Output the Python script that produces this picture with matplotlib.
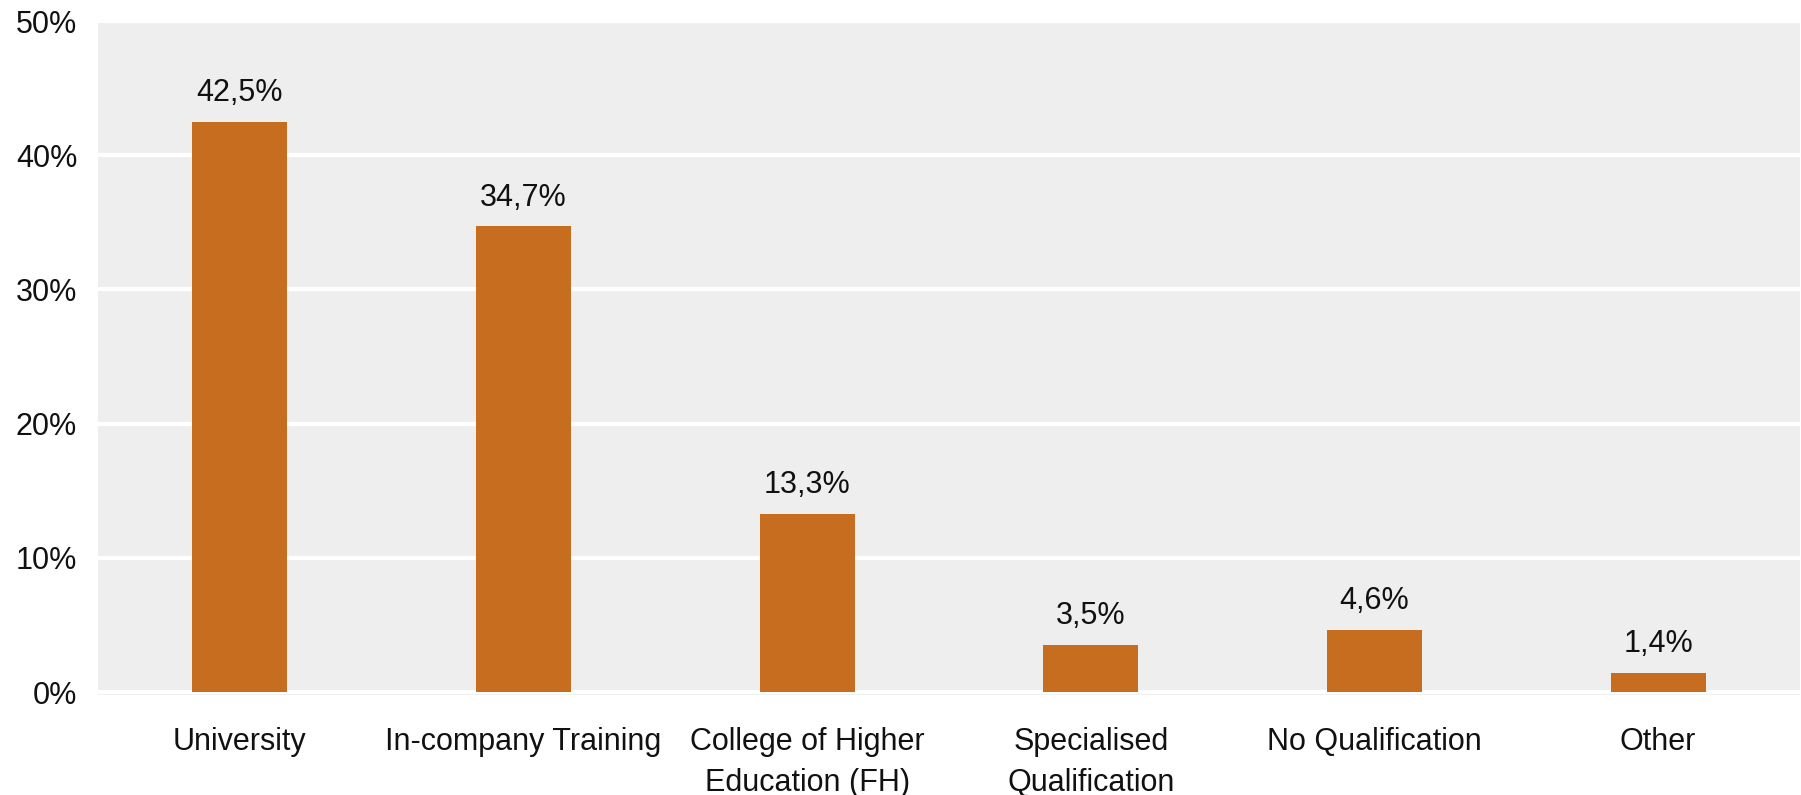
import numpy as np
import matplotlib.pyplot as plt

# data
categories = ['University', 'In-company Training', 'College of Higher\nEducation (FH)',
              'Specialised\nQualification', 'No Qualification', 'Other']
values = [42.5, 34.7, 13.3, 3.5, 4.6, 1.4]
yticks = [0, 10, 20, 30, 40, 50]

plt.rcParams['font.family'] = ['Liberation Sans', 'DejaVu Sans']

W, H = 1801, 795
fig = plt.figure(figsize=(W / 100, H / 100), dpi=100)
ax = fig.add_axes([98 / W, (H - 695) / H, (1800 - 98) / W, (695 - 19) / H])
ax.set_facecolor('#eeeeee')

x = np.arange(len(categories))
bars = ax.bar(x, values, width=0.335, color='#c66d1f', zorder=3)

for xi, v in zip(x, values):
    ax.annotate(f'{v:.1f}%'.replace('.', ','), (xi, v), xytext=(0, 15),
                textcoords='offset points', ha='center', va='baseline',
                fontsize=22, color='#111111')

ax.set_xlim(-0.5, len(categories) - 0.5)
ax.set_ylim(-0.22, 50.15)
ax.set_yticks(yticks)
ax.set_yticklabels([f'{t}%' for t in yticks])
ax.set_xticks(x)
ax.set_xticklabels(categories, linespacing=1.5)
ax.tick_params(axis='both', length=0, labelsize=22, labelcolor='#111111')
ax.tick_params(axis='x', pad=23)
ax.tick_params(axis='y', pad=15)
ax.grid(axis='y', color='white', linewidth=3, zorder=1)
for s in ax.spines.values():
    s.set_visible(False)

fig.savefig('out.png', dpi=100)
